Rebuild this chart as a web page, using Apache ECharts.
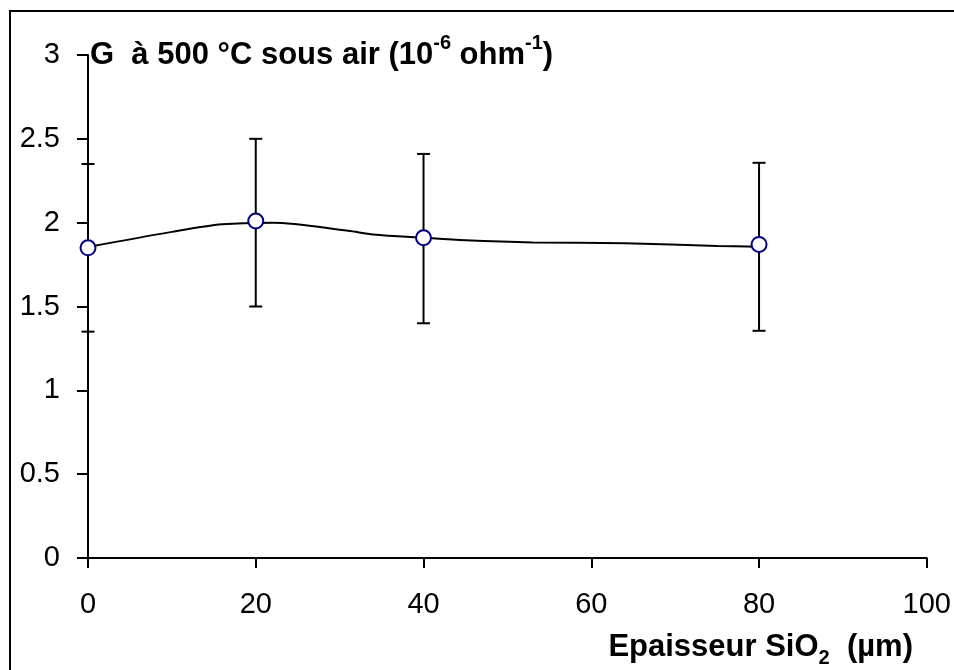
<html>
<head>
<meta charset="UTF-8">
<script src="https://cdn.jsdelivr.net/npm/echarts@6/dist/echarts.min.js"></script>
</head>
<body style="margin:0">
<div id="chart" style="width:954px;height:670px;"></div>
<script>
    // mesures (épaisseur en µm, G en 10^-6 ohm^-1)
    var epaisseur = [0, 20, 40, 80];
    var conductance = [1.85, 2.01, 1.91, 1.87];
    var errBas = [1.35, 1.5, 1.4, 1.355];
    var errHaut = [2.35, 2.5, 2.41, 2.357];

    // courbe lissée (tracé de tendance)
    var courbeX = [0, 10, 16, 22, 31, 34, 40, 45, 53, 64, 75, 80];
    var courbeY = [1.855, 1.945, 1.99, 2.0, 1.952, 1.93, 1.91, 1.895, 1.882, 1.877, 1.861, 1.857];

    var xTicks = [0, 20, 40, 60, 80, 100];
    var yTicks = [0, 0.5, 1, 1.5, 2, 2.5, 3];

    var font = 'Liberation Sans, Arial, sans-serif';
    var chart = echarts.init(document.getElementById('chart'));

    var points = [], errs = [], courbe = [];
    for (var i = 0; i < epaisseur.length; i++) {
        points.push([epaisseur[i], conductance[i]]);
        errs.push([epaisseur[i], errBas[i], errHaut[i]]);
    }
    for (var j = 0; j < courbeX.length; j++) {
        courbe.push([courbeX[j], courbeY[j]]);
    }

    function drawErr(params, api) {
        var lo = api.coord([api.value(0), api.value(1)]);
        var hi = api.coord([api.value(0), api.value(2)]);
        var w = 6.5;
        var st = { stroke: '#000', lineWidth: 2 };
        return {
            type: 'group',
            children: [
                { type: 'line', shape: { x1: lo[0], y1: lo[1], x2: hi[0], y2: hi[1] }, style: st },
                { type: 'line', shape: { x1: lo[0] - w, y1: lo[1], x2: lo[0] + w, y2: lo[1] }, style: st },
                { type: 'line', shape: { x1: hi[0] - w, y1: hi[1], x2: hi[0] + w, y2: hi[1] }, style: st }
            ]
        };
    }

    chart.setOption({
        animation: false,
        backgroundColor: '#fff',
        textStyle: { fontFamily: font },
        graphic: [{
            type: 'rect',
            shape: { x: 10, y: 11, width: 960, height: 680 },
            style: { fill: 'none', stroke: '#000', lineWidth: 2 },
            z: -1
        }],
        title: [{
            left: 85,
            top: 28,
            text: '{b|G  à 500 °C sous air (10}{s|-6}{b| ohm}{s|-1}{b|)}',
            textStyle: {
                rich: {
                    b: { fontFamily: font, fontWeight: 'bold', fontSize: 31, color: '#000', lineHeight: 38, verticalAlign: 'bottom' },
                    s: { fontFamily: font, fontWeight: 'bold', fontSize: 20, color: '#000', lineHeight: 38, verticalAlign: 'top' }
                }
            }
        }, {
            right: 36,
            top: 627,
            text: '{b|Epaisseur SiO}{d|2}{b|  (µm)}',
            textStyle: {
                rich: {
                    b: { fontFamily: font, fontWeight: 'bold', fontSize: 31, color: '#000', lineHeight: 36, verticalAlign: 'top' },
                    d: { fontFamily: font, fontWeight: 'bold', fontSize: 20, color: '#000', lineHeight: 36, verticalAlign: 'bottom' }
                }
            }
        }],
        grid: { left: 88, right: 27, top: 55, bottom: 112 },
        xAxis: {
            type: 'value',
            min: xTicks[0],
            max: xTicks[xTicks.length - 1],
            interval: 20,
            splitLine: { show: false },
            axisLine: { lineStyle: { color: '#000', width: 2 } },
            axisTick: { length: 10, lineStyle: { color: '#000', width: 2 } },
            axisLabel: { color: '#000', fontSize: 29, fontFamily: font, margin: 32 }
        },
        yAxis: {
            type: 'value',
            min: yTicks[0],
            max: yTicks[yTicks.length - 1],
            interval: 0.5,
            splitLine: { show: false },
            axisLine: { show: true, lineStyle: { color: '#000', width: 2 } },
            axisTick: { show: true, length: 11, lineStyle: { color: '#000', width: 2 } },
            axisLabel: { color: '#000', fontSize: 29, fontFamily: font, margin: 28 }
        },
        series: [{
            type: 'line',
            data: courbe,
            smooth: 0.3,
            showSymbol: false,
            lineStyle: { color: '#000', width: 2 },
            z: 2
        }, {
            type: 'custom',
            data: errs,
            renderItem: drawErr,
            z: 3
        }, {
            type: 'scatter',
            data: points,
            symbol: 'circle',
            symbolSize: 15,
            itemStyle: { color: '#fff', borderColor: '#000080', borderWidth: 2, opacity: 1 },
            z: 5
        }]
    });
</script>
</body>
</html>
